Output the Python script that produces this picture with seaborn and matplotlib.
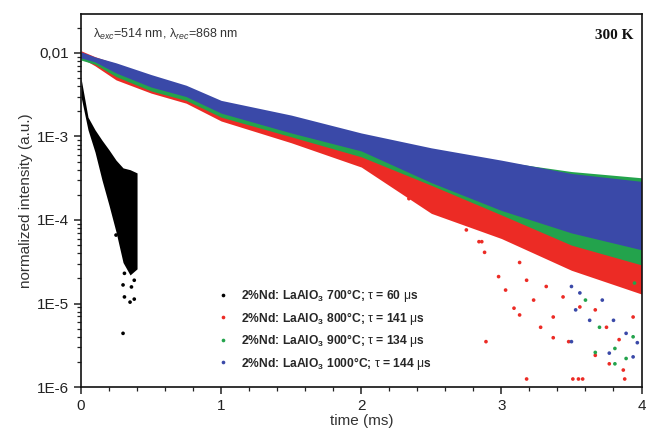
import pandas as pd
import numpy as np
import matplotlib
matplotlib.use("Agg")
import matplotlib.pyplot as plt
import seaborn as sns
from matplotlib.ticker import FixedLocator, FixedFormatter, MultipleLocator, NullFormatter

# ---- data ----
samples = ['700', '800', '900', '1000']
legend_labels = [
    r'2%Nd: LaAlO$_\mathbf{3}$ 700°C; $\mathrm{\tau}$ = 60 $\mathrm{\mu}$s',
    r'2%Nd: LaAlO$_\mathbf{3}$ 800°C; $\mathrm{\tau}$ = 141 $\mathrm{\mu}$s',
    r'2%Nd: LaAlO$_\mathbf{3}$ 900°C; $\mathrm{\tau}$ = 134 $\mathrm{\mu}$s',
    r'2%Nd: LaAlO$_\mathbf{3}$ 1000°C; $\mathrm{\tau}$ = 144 $\mathrm{\mu}$s',
]
colors = ['#000000', '#ec2b25', '#23a34c', '#3a49a8']

# dense part of each decay: upper / lower edge of the point cloud
black_t = [0, 0.05, 0.1, 0.15, 0.2, 0.25, 0.3, 0.35, 0.4]
black_hi = [5.0e-3, 1.7e-3, 1.2e-3, 9.0e-4, 6.9e-4, 5.2e-4, 4.2e-4, 4.0e-4, 3.66e-4]
black_lo = [3.0e-3, 1.2e-3, 6.5e-4, 3.0e-4, 1.5e-4, 7.2e-5, 3.1e-5, 2.2e-5, 2.6e-5]

t_grid = [0, 0.1, 0.25, 0.5, 0.75, 1.0, 1.5, 2.0, 2.5, 3.0, 3.5, 4.0]
red_hi = [1.06e-2, 9.0e-3, 7.4e-3, 5.3e-3, 3.9e-3, 2.5e-3, 1.6e-3, 9.5e-4, 5.5e-4, 3.2e-4, 2.0e-4, 1.4e-4]
red_lo = [8.7e-3, 7.0e-3, 4.75e-3, 3.3e-3, 2.5e-3, 1.53e-3, 8.4e-4, 4.3e-4, 1.2e-4, 6.0e-5, 2.5e-5, 1.3e-5]
green_hi = [1.0e-2, 8.7e-3, 7.3e-3, 5.2e-3, 3.9e-3, 2.6e-3, 1.7e-3, 1.05e-3, 7.0e-4, 5.0e-4, 3.8e-4, 3.2e-4]
green_lo = [8.2e-3, 7.3e-3, 5.2e-3, 3.5e-3, 2.7e-3, 1.7e-3, 9.9e-4, 5.7e-4, 2.6e-4, 1.15e-4, 5.0e-5, 2.9e-5]
blue_hi = [1.03e-2, 8.95e-3, 7.6e-3, 5.5e-3, 4.1e-3, 2.7e-3, 1.8e-3, 1.1e-3, 7.3e-4, 5.2e-4, 3.6e-4, 2.9e-4]
blue_lo = [8.7e-3, 7.8e-3, 5.75e-3, 3.9e-3, 3.0e-3, 1.9e-3, 1.1e-3, 6.7e-4, 2.8e-4, 1.3e-4, 7.0e-5, 4.4e-5]

# isolated points outside the dense clouds
black_pts_t = [0.25, 0.31, 0.30, 0.36, 0.38, 0.31, 0.35, 0.38, 0.30]
black_pts_i = [6.6e-5, 2.3e-5, 1.67e-5, 1.58e-5, 1.9e-5, 1.2e-5, 1.04e-5, 1.13e-5, 4.4e-6]
red_pts_t = [2.34, 2.34, 2.75, 2.75, 2.86, 2.95, 2.88, 2.84, 3.13, 3.09, 3.13, 2.89, 3.18, 3.37,
             3.28, 3.51, 3.55, 3.58, 3.88, 3.37, 3.48, 3.67, 3.77, 3.87, 2.98, 3.03, 3.18, 3.23,
             3.32, 3.44, 3.56, 3.67, 3.75, 3.84, 3.94]
red_pts_i = [2.16e-4, 1.8e-4, 1.0e-4, 7.6e-5, 5.5e-5, 7.6e-5, 4.1e-5, 5.5e-5, 3.1e-5, 8.8e-6,
             7.3e-6, 3.5e-6, 1.25e-6, 6.9e-6, 5.2e-6, 1.25e-6, 1.25e-6, 1.25e-6, 1.25e-6, 3.9e-6,
             3.5e-6, 2.4e-6, 1.9e-6, 1.6e-6, 2.1e-5, 1.45e-5, 1.9e-5, 1.1e-5, 1.6e-5, 1.2e-5,
             9.1e-6, 8.4e-6, 5.2e-6, 3.7e-6, 6.9e-6]
green_pts_t = [3.67, 3.81, 3.81, 3.89, 3.94, 3.95, 3.70, 3.60]
green_pts_i = [2.6e-6, 2.9e-6, 1.9e-6, 2.2e-6, 4.0e-6, 1.76e-5, 5.2e-6, 1.1e-5]
blue_pts_t = [3.50, 3.53, 3.63, 3.77, 3.94, 3.80, 3.89, 3.97, 3.56, 3.72, 3.50]
blue_pts_i = [1.6e-5, 8.4e-6, 6.3e-6, 2.55e-6, 2.3e-6, 6.3e-6, 4.4e-6, 3.4e-6, 1.34e-5, 1.1e-5, 3.5e-6]

x_ticks = [0, 1, 2, 3, 4]
y_ticks = [1e-6, 1e-5, 1e-4, 1e-3, 1e-2]
y_ticklabels = ['1E-6', '1E-5', '1E-4', '1E-3', '0,01']


def band_rows(name, t, lo, hi):
    rows = []
    for ti, a, b in zip(t, lo, hi):
        rows.append((name, ti, a))
        rows.append((name, ti, b))
    return rows


bands = pd.DataFrame(
    band_rows('700', black_t, black_lo, black_hi)
    + band_rows('800', t_grid, red_lo, red_hi)
    + band_rows('900', t_grid, green_lo, green_hi)
    + band_rows('1000', t_grid, blue_lo, blue_hi),
    columns=['sample', 'time', 'intensity'])

pts = pd.DataFrame({
    'sample': ['700'] * len(black_pts_t) + ['800'] * len(red_pts_t)
              + ['900'] * len(green_pts_t) + ['1000'] * len(blue_pts_t),
    'time': black_pts_t + red_pts_t + green_pts_t + blue_pts_t,
    'intensity': black_pts_i + red_pts_i + green_pts_i + blue_pts_i,
})

sns.set_style('white')
plt.rcParams['font.family'] = ['Liberation Sans', 'DejaVu Sans']
plt.rcParams['mathtext.fontset'] = 'custom'
plt.rcParams['mathtext.rm'] = 'Liberation Sans'
plt.rcParams['mathtext.it'] = 'Liberation Sans:italic'
plt.rcParams['mathtext.bf'] = 'Liberation Sans:bold'

fig = plt.figure(figsize=(6.48, 4.33), dpi=100)
ax = fig.add_axes([0.125, 0.106, 0.865, 0.862])
ax.set_yscale('log')

palette = dict(zip(samples, colors))
sns.lineplot(data=bands, x='time', y='intensity', hue='sample', hue_order=samples,
             palette=palette, estimator='mean', errorbar=('pi', 100), linewidth=0,
             err_kws={'alpha': 1, 'linewidth': 0}, legend=False, ax=ax)
sns.scatterplot(data=pts, x='time', y='intensity', hue='sample', hue_order=samples,
                palette=palette, s=7, linewidth=0, ax=ax)

ax.set_xlim(0, 4)
ax.set_ylim(1e-6, 2.93e-2)

ax.xaxis.set_major_locator(FixedLocator(x_ticks))
ax.xaxis.set_minor_locator(MultipleLocator(0.2))
ax.yaxis.set_major_locator(FixedLocator(y_ticks))
ax.yaxis.set_major_formatter(FixedFormatter(y_ticklabels))
ax.yaxis.set_minor_formatter(NullFormatter())
ax.tick_params(which='both', direction='out', colors='#222222', labelsize=11)
ax.tick_params(which='major', length=5, width=1.1)
ax.tick_params(which='minor', length=3, width=0.9)
ax.tick_params(axis='x', which='both', bottom=True)
ax.tick_params(axis='y', which='both', left=True)
for sp in ax.spines.values():
    sp.set_color('#111111')
    sp.set_linewidth(1.2)

ax.set_xlabel('time (ms)', fontsize=11, color='#333333', labelpad=1)
ax.set_ylabel('normalized intensity (a.u.)', fontsize=11, color='#333333', labelpad=3)

ax.text(0.022, 0.965, r'$\mathrm{\lambda}_{exc}$=514 nm, $\mathrm{\lambda}_{rec}$=868 nm',
        transform=ax.transAxes, fontsize=9, color='#333333', va='top', ha='left')
ax.text(0.985, 0.96, '300 K', transform=ax.transAxes, fontsize=11, fontweight='bold',
        family='Liberation Serif', va='top', ha='right', color='#111111')

handles, _ = ax.get_legend_handles_labels()
ax.legend(handles, legend_labels, loc='lower left', bbox_to_anchor=(0.216, 0.019),
          frameon=False, prop={'weight': 'bold', 'size': 8.7}, handletextpad=0.5,
          labelspacing=0.45, markerscale=1.0, borderpad=0.2)

fig.savefig('out.png', dpi=100)
